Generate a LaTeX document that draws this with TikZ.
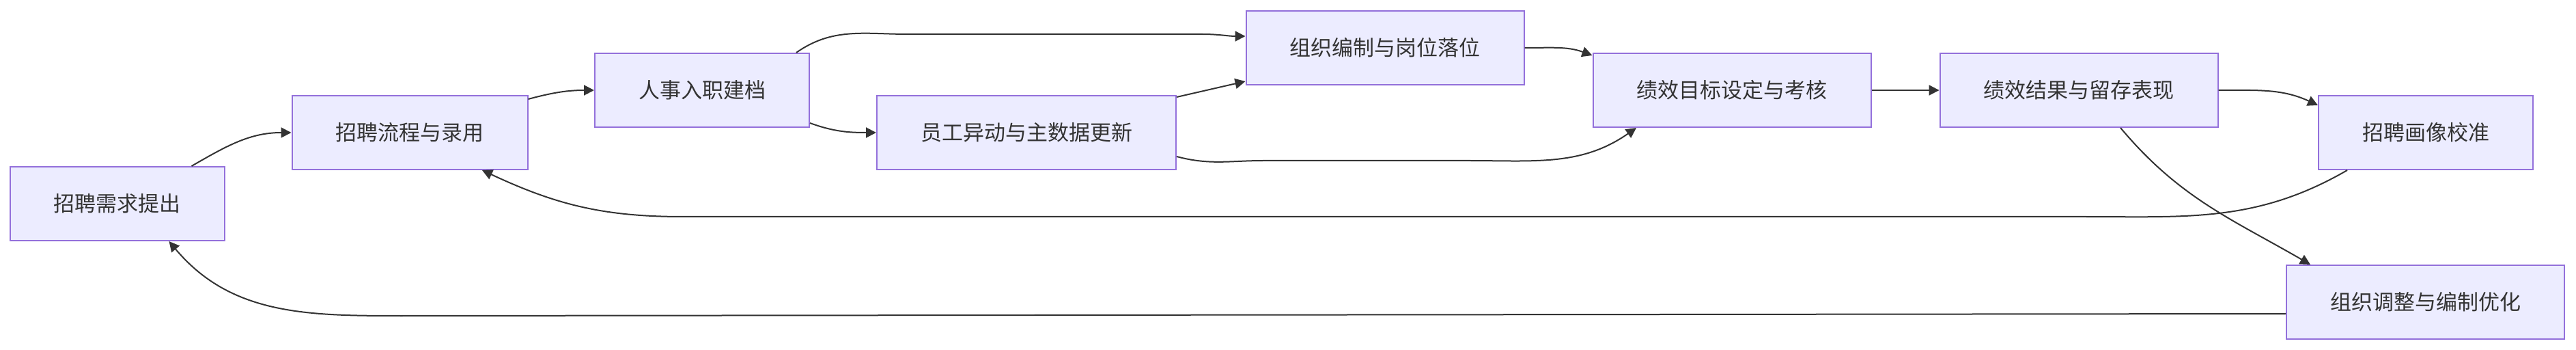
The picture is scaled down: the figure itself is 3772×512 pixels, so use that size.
\documentclass[tikz,border=0pt]{standalone}
\usepackage{fontspec}
\newfontfamily\cjk{Noto Sans CJK SC}
\usetikzlibrary{arrows.meta, calc}
\definecolor{boxfill}{HTML}{ECECFF}
\definecolor{boxline}{HTML}{9370DB}
\definecolor{ink}{HTML}{333333}

\begin{document}
\begin{tikzpicture}[
    x=0.5pt, y=-0.5pt,
    stage/.style={draw=boxline, fill=boxfill, line width=1pt, rectangle, minimum height=54pt, inner xsep=32pt, text=ink, font=\cjk\fontsize{15.5pt}{18pt}\selectfont},
    arrow/.style={-{Triangle[length=7.5pt, width=7.5pt]}, draw=ink, line width=1pt}
]
    \useasboundingbox (0,0) rectangle (3772,512);

    \node[stage] (demand) at (171.5,298) {招聘需求提出};
    \node[stage] (recruit) at (600,194) {招聘流程与录用};
    \node[stage] (onboard) at (1028,132) {人事入职建档};
    \node[stage] (change) at (1503,194) {员工异动与主数据更新};
    \node[stage] (orgplan) at (2028,70) {组织编制与岗位落位};
    \node[stage] (goal) at (2536,132) {绩效目标设定与考核};
    \node[stage] (result) at (3044,132) {绩效结果与留存表现};
    \node[stage] (profile) at (3552,194) {招聘画像校准};
    \node[stage] (orgopt) at (3551.5,442) {组织调整与编制优化};

    \draw[arrow] ($(demand.north)+(109,0)$) to[out=30,in=180] (recruit.west);
    \draw[arrow] ($(recruit.east)+(0,-49)$) to[out=15,in=180] (onboard.west);
    \draw[arrow] ($(onboard.north east)+(-20,0)$) to[out=35,in=180] (1330,50) -- (1760,50) to[out=0,in=180] ($(orgplan.west)+(0,-17)$);
    \draw[arrow] ($(onboard.east)+(0,48)$) to[out=-20,in=180] (change.west);

    \draw[arrow] ($(change.north east)+(0,3)$) -- ($(orgplan.south west)+(0,-6)$);
    \draw[arrow] ($(change.south east)+(0,-20)$) to[out=-15,in=180] (1850,235) -- (2150,235) to[out=0,in=-145] ($(goal.south)+(-140,0)$);
    \draw[arrow] (orgplan.east) to[out=0,in=160] ($(goal.north west)+(0,4)$);

    \draw[arrow] (goal.east) -- (result.west);
    \draw[arrow] (result.east) to[out=0,in=155] ($(profile.north west)+(0,15)$);
    \draw[arrow] ($(result.south)+(61,0)$) to[out=-50,in=150] ($(orgopt.north west)+(36,0)$);

    \draw[arrow] ($(profile.south west)+(43,0)$) to[out=-150,in=0] (3050,317) -- (1000,317) to[out=180,in=-25] ($(recruit.south)+(106,0)$);
    \draw[arrow] ($(orgopt.west)+(0,17)$) -- (600,462) to[out=180,in=-50] ($(demand.south)+(76,0)$);

\end{tikzpicture}
\end{document}
